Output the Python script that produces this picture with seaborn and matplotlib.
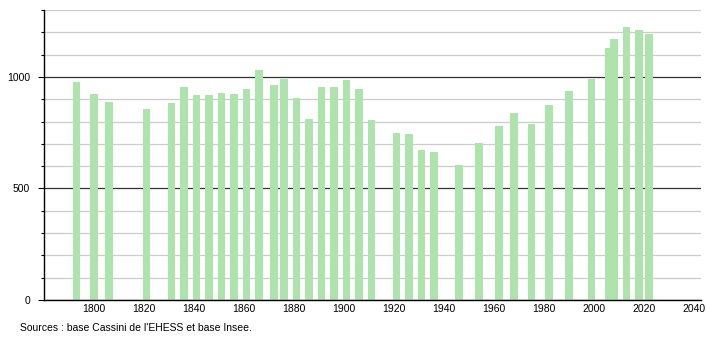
import matplotlib
matplotlib.use("Agg")
import matplotlib.pyplot as plt
import seaborn as sns
import pandas as pd
from matplotlib.ticker import MultipleLocator, FixedLocator

years = [1793, 1800, 1806, 1821, 1831, 1836, 1841, 1846, 1851, 1856,
         1861, 1866, 1872, 1876, 1881, 1886, 1891, 1896, 1901, 1906,
         1911, 1921, 1926, 1931, 1936, 1946, 1954, 1962, 1968, 1975,
         1982, 1990, 1999, 2006, 2008, 2013, 2018, 2022]
population = [978, 924, 888, 854, 884, 954, 921, 920, 929, 924,
              948, 1029, 966, 989, 906, 813, 954, 953, 984, 944,
              809, 749, 746, 674, 664, 607, 704, 779, 839, 787,
              872, 936, 989, 1131, 1171, 1224, 1209, 1191]
x_ticks = [1800, 1820, 1840, 1860, 1880, 1900, 1920, 1940, 1960, 1980, 2000, 2020, 2040]
y_ticks = [0, 500, 1000]
source_text = "Sources : base Cassini de l'EHESS et base Insee."

df = pd.DataFrame({"year": years, "population": population})

sns.set_style("white")
plt.rcParams["font.family"] = ["Liberation Sans", "DejaVu Sans"]
plt.rcParams["text.color"] = "black"
plt.rcParams["xtick.color"] = "black"
plt.rcParams["ytick.color"] = "black"

fig = plt.figure(figsize=(7.1, 3.4), dpi=100)
ax = fig.add_axes([44 / 710, 1 - 300 / 340, (701 - 44) / 710, 290 / 340])

sns.barplot(data=df, x="year", y="population", native_scale=True, orient="x",
            width=1.6, color="#aee3ae", saturation=1, errorbar=None, ax=ax,
            linewidth=0)

ax.set_xlim(1780, 2042.8)
ax.set_ylim(0, 1300)
ax.set_xlabel("")
ax.set_ylabel("")

ax.xaxis.set_major_locator(FixedLocator(x_ticks))
ax.set_xticklabels([str(t) for t in x_ticks], fontsize=7.5, color="black")
ax.tick_params(axis="x", length=0, pad=3)

ax.yaxis.set_major_locator(FixedLocator(y_ticks))
ax.yaxis.set_minor_locator(MultipleLocator(100))
ax.set_yticklabels([str(t) for t in y_ticks], fontsize=7.5, color="black")
ax.tick_params(axis="y", which="major", length=4, width=0.8, pad=6, left=True, color="black")
ax.tick_params(axis="y", which="minor", length=2, width=0.8, left=True, color="black")

ax.set_axisbelow(True)
ax.grid(False)
ax.yaxis.grid(True, which="minor", color="#cccccc", linewidth=0.9)
ax.yaxis.grid(True, which="major", color="#333333", linewidth=0.9)

for s in ["top", "right"]:
    ax.spines[s].set_visible(False)
for s in ["left", "bottom"]:
    ax.spines[s].set_color("black")
    ax.spines[s].set_linewidth(1)

fig.text(20 / 710, 1 - 328 / 340, source_text, fontsize=7.5, va="center", ha="left", color="black")

fig.savefig("out.png", dpi=100)
